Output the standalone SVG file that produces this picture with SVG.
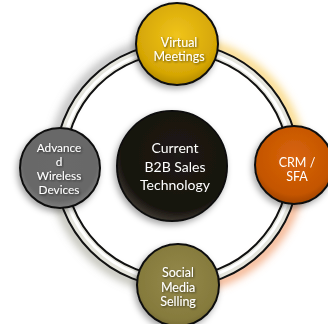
<svg xmlns="http://www.w3.org/2000/svg" width="328" height="324" viewBox="0 0 328 324">
<style>
.lbl{font-family:Lato,"Open Sans","Liberation Sans",sans-serif;font-size:12.5px;fill:#fff;text-anchor:middle}
.big{font-size:14px}
.sm{font-size:11.8px}
.node{stroke:#111;stroke-width:2}
</style>
<defs>
<filter id="blur" x="-30%" y="-30%" width="160%" height="160%"><feGaussianBlur stdDeviation="4"/></filter>
<filter id="ts" x="-20%" y="-20%" width="140%" height="140%"><feDropShadow dx="1" dy="1" stdDeviation="0.8" flood-color="#000" flood-opacity="0.6"/></filter>
<filter id="ds" x="-30%" y="-30%" width="160%" height="160%"><feDropShadow dx="-2" dy="3" stdDeviation="3" flood-color="#000" flood-opacity="0.35"/></filter>
<radialGradient id="gY" cx="50%" cy="40%" r="60%"><stop offset="0" stop-color="#f0c41c"/><stop offset="0.8" stop-color="#d5a605"/><stop offset="1" stop-color="#b38a00"/></radialGradient>
<radialGradient id="gO" cx="50%" cy="40%" r="60%"><stop offset="0" stop-color="#d8640c"/><stop offset="0.8" stop-color="#c45500"/><stop offset="1" stop-color="#a04400"/></radialGradient>
<radialGradient id="gG" cx="50%" cy="45%" r="60%"><stop offset="0" stop-color="#6a6a6a"/><stop offset="0.75" stop-color="#676767"/><stop offset="1" stop-color="#8a8a8a"/></radialGradient>
<radialGradient id="gS" cx="50%" cy="45%" r="60%"><stop offset="0" stop-color="#958a4c"/><stop offset="0.8" stop-color="#857a3c"/><stop offset="1" stop-color="#6e6430"/></radialGradient>
<radialGradient id="gC" cx="55%" cy="40%" r="60%"><stop offset="0" stop-color="#1e1a14"/><stop offset="0.85" stop-color="#17130e"/><stop offset="1" stop-color="#3a352e"/></radialGradient>
</defs>
<g id="connectors">
<g filter="url(#blur)" fill="none" stroke-width="10">
<path d="M177 41 A124 124 0 0 1 301 165" stroke="#f7c850" opacity="0.7"/>
<path d="M301 165 A124 124 0 0 1 177 289" stroke="#f0905a" opacity="0.7"/>
<path d="M177 289 A124 124 0 0 1 53 165" stroke="#8a8a7a" opacity="0.55"/>
<path d="M53 165 A124 124 0 0 1 177 41" stroke="#8a8a8a" opacity="0.55"/>
</g>
<circle cx="177" cy="165" r="117" fill="none" stroke="#111" stroke-width="12"/>
<circle cx="177" cy="165" r="117" fill="none" stroke="#e6e6de" stroke-width="8"/>
<circle cx="177" cy="165" r="116" fill="none" stroke="#ffffff" stroke-width="3"/>
</g>
<g id="center" filter="url(#ds)">
<circle class="node" cx="172" cy="166" r="55" fill="url(#gC)"/>
<text class="lbl big" x="175" y="153">Current</text>
<text class="lbl big" x="175" y="172">B2B Sales</text>
<text class="lbl big" x="175" y="190">Technology</text>
</g>
<g id="virtual-meetings" filter="url(#ds)">
<circle class="node" cx="177" cy="44" r="41" fill="url(#gY)"/>
<text class="lbl" x="179" y="47" filter="url(#ts)">Virtual</text>
<text class="lbl" x="179" y="61" filter="url(#ts)">Meetings</text>
</g>
<g id="crm-sfa" filter="url(#ds)">
<circle class="node" cx="294" cy="165" r="39" fill="url(#gO)"/>
<text class="lbl" x="297" y="167">CRM /</text>
<text class="lbl" x="297" y="181">SFA</text>
</g>
<g id="advanced-wireless" filter="url(#ds)">
<circle class="node" cx="60" cy="168" r="40" fill="url(#gG)"/>
<text class="lbl sm" x="59" y="152" filter="url(#ts)">Advance</text>
<text class="lbl sm" x="59" y="166" filter="url(#ts)">d</text>
<text class="lbl sm" x="59" y="180" filter="url(#ts)">Wireless</text>
<text class="lbl sm" x="59" y="194" filter="url(#ts)">Devices</text>
</g>
<g id="social-media" filter="url(#ds)">
<circle class="node" cx="178" cy="285" r="41" fill="url(#gS)"/>
<text class="lbl" x="178" y="277" filter="url(#ts)">Social</text>
<text class="lbl" x="178" y="292" filter="url(#ts)">Media</text>
<text class="lbl" x="178" y="306" filter="url(#ts)">Selling</text>
</g>
</svg>
